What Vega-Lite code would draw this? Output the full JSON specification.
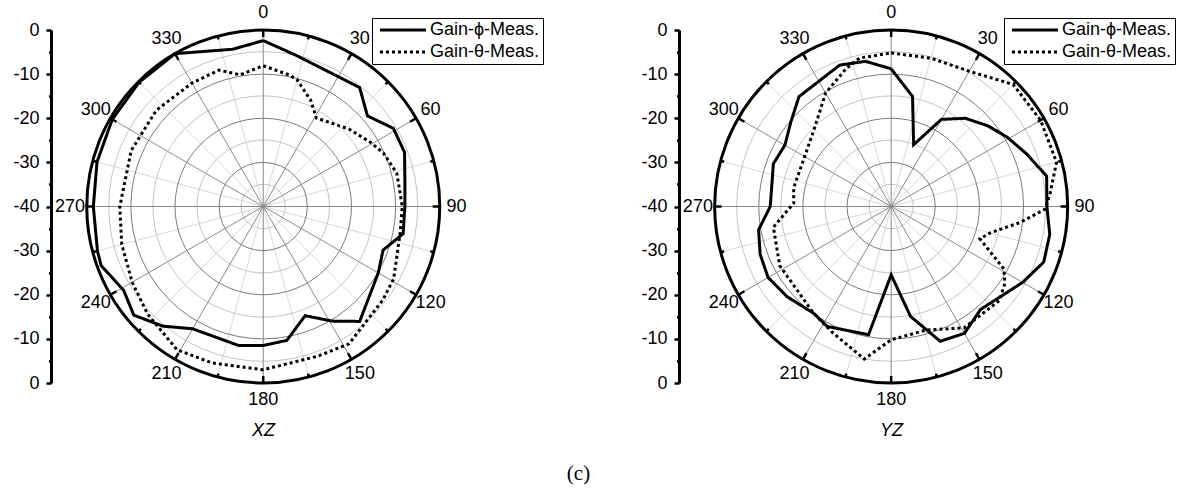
{
  "$schema": "https://vega.github.io/schema/vega-lite/v6.json",
  "width": 1129,
  "height": 353,
  "autosize": {"type": "none"},
  "padding": {"left": 51, "top": 30, "right": 0, "bottom": 108},
  "background": "white",
  "config": {"view": {"stroke": null}, "font": "Liberation Sans"},
  "title": {"text": "(c)", "orient": "bottom", "anchor": "middle", "frame": "group", "font": "Liberation Serif", "fontSize": 21, "fontWeight": "normal", "color": "black", "offset": 24, "dx": -37},
  "datasets": {
    "rings": [
      {"panel": "XZ", "level": -35}, {"panel": "XZ", "level": -30}, {"panel": "XZ", "level": -25}, {"panel": "XZ", "level": -20},
      {"panel": "XZ", "level": -15}, {"panel": "XZ", "level": -10}, {"panel": "XZ", "level": -5}, {"panel": "XZ", "level": 0},
      {"panel": "YZ", "level": -35}, {"panel": "YZ", "level": -30}, {"panel": "YZ", "level": -25}, {"panel": "YZ", "level": -20},
      {"panel": "YZ", "level": -15}, {"panel": "YZ", "level": -10}, {"panel": "YZ", "level": -5}, {"panel": "YZ", "level": 0}
    ],
    "spokes": [
      {"panel": "XZ", "angle": 0}, {"panel": "XZ", "angle": 15}, {"panel": "XZ", "angle": 30}, {"panel": "XZ", "angle": 45},
      {"panel": "XZ", "angle": 60}, {"panel": "XZ", "angle": 75}, {"panel": "XZ", "angle": 90}, {"panel": "XZ", "angle": 105},
      {"panel": "XZ", "angle": 120}, {"panel": "XZ", "angle": 135}, {"panel": "XZ", "angle": 150}, {"panel": "XZ", "angle": 165},
      {"panel": "XZ", "angle": 180}, {"panel": "XZ", "angle": 195}, {"panel": "XZ", "angle": 210}, {"panel": "XZ", "angle": 225},
      {"panel": "XZ", "angle": 240}, {"panel": "XZ", "angle": 255}, {"panel": "XZ", "angle": 270}, {"panel": "XZ", "angle": 285},
      {"panel": "XZ", "angle": 300}, {"panel": "XZ", "angle": 315}, {"panel": "XZ", "angle": 330}, {"panel": "XZ", "angle": 345},
      {"panel": "YZ", "angle": 0}, {"panel": "YZ", "angle": 15}, {"panel": "YZ", "angle": 30}, {"panel": "YZ", "angle": 45},
      {"panel": "YZ", "angle": 60}, {"panel": "YZ", "angle": 75}, {"panel": "YZ", "angle": 90}, {"panel": "YZ", "angle": 105},
      {"panel": "YZ", "angle": 120}, {"panel": "YZ", "angle": 135}, {"panel": "YZ", "angle": 150}, {"panel": "YZ", "angle": 165},
      {"panel": "YZ", "angle": 180}, {"panel": "YZ", "angle": 195}, {"panel": "YZ", "angle": 210}, {"panel": "YZ", "angle": 225},
      {"panel": "YZ", "angle": 240}, {"panel": "YZ", "angle": 255}, {"panel": "YZ", "angle": 270}, {"panel": "YZ", "angle": 285},
      {"panel": "YZ", "angle": 300}, {"panel": "YZ", "angle": 315}, {"panel": "YZ", "angle": 330}, {"panel": "YZ", "angle": 345}
    ],
    "curves": [
      {"panel": "XZ", "series": "Gain-ϕ-Meas.", "angle": 0, "gain": -2.4},
      {"panel": "XZ", "series": "Gain-ϕ-Meas.", "angle": 12, "gain": -4.9},
      {"panel": "XZ", "series": "Gain-ϕ-Meas.", "angle": 39, "gain": -5.3},
      {"panel": "XZ", "series": "Gain-ϕ-Meas.", "angle": 49, "gain": -8.7},
      {"panel": "XZ", "series": "Gain-ϕ-Meas.", "angle": 59, "gain": -5.6},
      {"panel": "XZ", "series": "Gain-ϕ-Meas.", "angle": 69, "gain": -5.7},
      {"panel": "XZ", "series": "Gain-ϕ-Meas.", "angle": 80, "gain": -7.4},
      {"panel": "XZ", "series": "Gain-ϕ-Meas.", "angle": 90, "gain": -7.9},
      {"panel": "XZ", "series": "Gain-ϕ-Meas.", "angle": 101, "gain": -7.7},
      {"panel": "XZ", "series": "Gain-ϕ-Meas.", "angle": 110, "gain": -11.1},
      {"panel": "XZ", "series": "Gain-ϕ-Meas.", "angle": 120, "gain": -9.9},
      {"panel": "XZ", "series": "Gain-ϕ-Meas.", "angle": 140, "gain": -6.0},
      {"panel": "XZ", "series": "Gain-ϕ-Meas.", "angle": 149, "gain": -9.7},
      {"panel": "XZ", "series": "Gain-ϕ-Meas.", "angle": 159, "gain": -13.5},
      {"panel": "XZ", "series": "Gain-ϕ-Meas.", "angle": 170, "gain": -9.2},
      {"panel": "XZ", "series": "Gain-ϕ-Meas.", "angle": 180, "gain": -8.5},
      {"panel": "XZ", "series": "Gain-ϕ-Meas.", "angle": 190, "gain": -8.0},
      {"panel": "XZ", "series": "Gain-ϕ-Meas.", "angle": 210, "gain": -8.0},
      {"panel": "XZ", "series": "Gain-ϕ-Meas.", "angle": 220, "gain": -4.6},
      {"panel": "XZ", "series": "Gain-ϕ-Meas.", "angle": 230, "gain": -1.7},
      {"panel": "XZ", "series": "Gain-ϕ-Meas.", "angle": 239, "gain": -3.1},
      {"panel": "XZ", "series": "Gain-ϕ-Meas.", "angle": 250, "gain": -0.9},
      {"panel": "XZ", "series": "Gain-ϕ-Meas.", "angle": 255, "gain": -1.1},
      {"panel": "XZ", "series": "Gain-ϕ-Meas.", "angle": 270, "gain": -1.5},
      {"panel": "XZ", "series": "Gain-ϕ-Meas.", "angle": 285, "gain": -1.0},
      {"panel": "XZ", "series": "Gain-ϕ-Meas.", "angle": 300, "gain": -0.5},
      {"panel": "XZ", "series": "Gain-ϕ-Meas.", "angle": 315, "gain": -0.2},
      {"panel": "XZ", "series": "Gain-ϕ-Meas.", "angle": 330, "gain": 0},
      {"panel": "XZ", "series": "Gain-ϕ-Meas.", "angle": 349, "gain": -3.7},
      {"panel": "XZ", "series": "Gain-ϕ-Meas.", "angle": 360, "gain": -2.4},
      {"panel": "XZ", "series": "Gain-θ-Meas.", "angle": 0, "gain": -8.1},
      {"panel": "XZ", "series": "Gain-θ-Meas.", "angle": 11, "gain": -9.6},
      {"panel": "XZ", "series": "Gain-θ-Meas.", "angle": 15, "gain": -10.3},
      {"panel": "XZ", "series": "Gain-θ-Meas.", "angle": 24, "gain": -13.6},
      {"panel": "XZ", "series": "Gain-θ-Meas.", "angle": 31, "gain": -16.6},
      {"panel": "XZ", "series": "Gain-θ-Meas.", "angle": 48, "gain": -13.8},
      {"panel": "XZ", "series": "Gain-θ-Meas.", "angle": 59, "gain": -11.7},
      {"panel": "XZ", "series": "Gain-θ-Meas.", "angle": 66, "gain": -10.2},
      {"panel": "XZ", "series": "Gain-θ-Meas.", "angle": 76, "gain": -8.8},
      {"panel": "XZ", "series": "Gain-θ-Meas.", "angle": 90, "gain": -8.5},
      {"panel": "XZ", "series": "Gain-θ-Meas.", "angle": 101, "gain": -8.4},
      {"panel": "XZ", "series": "Gain-θ-Meas.", "angle": 119, "gain": -6.2},
      {"panel": "XZ", "series": "Gain-θ-Meas.", "angle": 128, "gain": -5.6},
      {"panel": "XZ", "series": "Gain-θ-Meas.", "angle": 148, "gain": -3.3},
      {"panel": "XZ", "series": "Gain-θ-Meas.", "angle": 160, "gain": -3.9},
      {"panel": "XZ", "series": "Gain-θ-Meas.", "angle": 180, "gain": -3.0},
      {"panel": "XZ", "series": "Gain-θ-Meas.", "angle": 198, "gain": -2.7},
      {"panel": "XZ", "series": "Gain-θ-Meas.", "angle": 211, "gain": -2.1},
      {"panel": "XZ", "series": "Gain-θ-Meas.", "angle": 227, "gain": -4.2},
      {"panel": "XZ", "series": "Gain-θ-Meas.", "angle": 240, "gain": -5.7},
      {"panel": "XZ", "series": "Gain-θ-Meas.", "angle": 255, "gain": -6.8},
      {"panel": "XZ", "series": "Gain-θ-Meas.", "angle": 270, "gain": -7.5},
      {"panel": "XZ", "series": "Gain-θ-Meas.", "angle": 293, "gain": -7.5},
      {"panel": "XZ", "series": "Gain-θ-Meas.", "angle": 312, "gain": -7.4},
      {"panel": "XZ", "series": "Gain-θ-Meas.", "angle": 330, "gain": -7.7},
      {"panel": "XZ", "series": "Gain-θ-Meas.", "angle": 342, "gain": -7.5},
      {"panel": "XZ", "series": "Gain-θ-Meas.", "angle": 350, "gain": -9.7},
      {"panel": "XZ", "series": "Gain-θ-Meas.", "angle": 360, "gain": -8.1},
      {"panel": "YZ", "series": "Gain-ϕ-Meas.", "angle": 0, "gain": -8.8},
      {"panel": "YZ", "series": "Gain-ϕ-Meas.", "angle": 11, "gain": -14.6},
      {"panel": "YZ", "series": "Gain-ϕ-Meas.", "angle": 20, "gain": -25.1},
      {"panel": "YZ", "series": "Gain-ϕ-Meas.", "angle": 30, "gain": -17.2},
      {"panel": "YZ", "series": "Gain-ϕ-Meas.", "angle": 40, "gain": -13.9},
      {"panel": "YZ", "series": "Gain-ϕ-Meas.", "angle": 50, "gain": -11.5},
      {"panel": "YZ", "series": "Gain-ϕ-Meas.", "angle": 59, "gain": -9.4},
      {"panel": "YZ", "series": "Gain-ϕ-Meas.", "angle": 69, "gain": -7.0},
      {"panel": "YZ", "series": "Gain-ϕ-Meas.", "angle": 79, "gain": -4.1},
      {"panel": "YZ", "series": "Gain-ϕ-Meas.", "angle": 90, "gain": -4.7},
      {"panel": "YZ", "series": "Gain-ϕ-Meas.", "angle": 100, "gain": -3.5},
      {"panel": "YZ", "series": "Gain-ϕ-Meas.", "angle": 110, "gain": -3.2},
      {"panel": "YZ", "series": "Gain-ϕ-Meas.", "angle": 120, "gain": -5.6},
      {"panel": "YZ", "series": "Gain-ϕ-Meas.", "angle": 139, "gain": -9.1},
      {"panel": "YZ", "series": "Gain-ϕ-Meas.", "angle": 150, "gain": -6.8},
      {"panel": "YZ", "series": "Gain-ϕ-Meas.", "angle": 160, "gain": -7.5},
      {"panel": "YZ", "series": "Gain-ϕ-Meas.", "angle": 170, "gain": -14.7},
      {"panel": "YZ", "series": "Gain-ϕ-Meas.", "angle": 180, "gain": -24.5},
      {"panel": "YZ", "series": "Gain-ϕ-Meas.", "angle": 190, "gain": -10.5},
      {"panel": "YZ", "series": "Gain-ϕ-Meas.", "angle": 208, "gain": -9.2},
      {"panel": "YZ", "series": "Gain-ϕ-Meas.", "angle": 216, "gain": -10.1},
      {"panel": "YZ", "series": "Gain-ϕ-Meas.", "angle": 229, "gain": -8.8},
      {"panel": "YZ", "series": "Gain-ϕ-Meas.", "angle": 240, "gain": -7.8},
      {"panel": "YZ", "series": "Gain-ϕ-Meas.", "angle": 250, "gain": -8.4},
      {"panel": "YZ", "series": "Gain-ϕ-Meas.", "angle": 260, "gain": -9.5},
      {"panel": "YZ", "series": "Gain-ϕ-Meas.", "angle": 270, "gain": -12.6},
      {"panel": "YZ", "series": "Gain-ϕ-Meas.", "angle": 290, "gain": -11.6},
      {"panel": "YZ", "series": "Gain-ϕ-Meas.", "angle": 300, "gain": -12.2},
      {"panel": "YZ", "series": "Gain-ϕ-Meas.", "angle": 310, "gain": -10.3},
      {"panel": "YZ", "series": "Gain-ϕ-Meas.", "angle": 320, "gain": -7.5},
      {"panel": "YZ", "series": "Gain-ϕ-Meas.", "angle": 340, "gain": -5.9},
      {"panel": "YZ", "series": "Gain-ϕ-Meas.", "angle": 350, "gain": -6.6},
      {"panel": "YZ", "series": "Gain-ϕ-Meas.", "angle": 360, "gain": -8.8},
      {"panel": "YZ", "series": "Gain-θ-Meas.", "angle": 0, "gain": -5.2},
      {"panel": "YZ", "series": "Gain-θ-Meas.", "angle": 15, "gain": -5.2},
      {"panel": "YZ", "series": "Gain-θ-Meas.", "angle": 30, "gain": -4.6},
      {"panel": "YZ", "series": "Gain-θ-Meas.", "angle": 45, "gain": -0.9},
      {"panel": "YZ", "series": "Gain-θ-Meas.", "angle": 60, "gain": -0.9},
      {"panel": "YZ", "series": "Gain-θ-Meas.", "angle": 75, "gain": -1.2},
      {"panel": "YZ", "series": "Gain-θ-Meas.", "angle": 85, "gain": -3.8},
      {"panel": "YZ", "series": "Gain-θ-Meas.", "angle": 91, "gain": -5.1},
      {"panel": "YZ", "series": "Gain-θ-Meas.", "angle": 97, "gain": -10.5},
      {"panel": "YZ", "series": "Gain-θ-Meas.", "angle": 105, "gain": -16.8},
      {"panel": "YZ", "series": "Gain-θ-Meas.", "angle": 110, "gain": -18.6},
      {"panel": "YZ", "series": "Gain-θ-Meas.", "angle": 119, "gain": -10.8},
      {"panel": "YZ", "series": "Gain-θ-Meas.", "angle": 124, "gain": -8.9},
      {"panel": "YZ", "series": "Gain-θ-Meas.", "angle": 131, "gain": -7.5},
      {"panel": "YZ", "series": "Gain-θ-Meas.", "angle": 149, "gain": -7.9},
      {"panel": "YZ", "series": "Gain-θ-Meas.", "angle": 164, "gain": -10.9},
      {"panel": "YZ", "series": "Gain-θ-Meas.", "angle": 180, "gain": -9.8},
      {"panel": "YZ", "series": "Gain-θ-Meas.", "angle": 190, "gain": -4.9},
      {"panel": "YZ", "series": "Gain-θ-Meas.", "angle": 205, "gain": -8.5},
      {"panel": "YZ", "series": "Gain-θ-Meas.", "angle": 216, "gain": -10.1},
      {"panel": "YZ", "series": "Gain-θ-Meas.", "angle": 242, "gain": -11.4},
      {"panel": "YZ", "series": "Gain-θ-Meas.", "angle": 260, "gain": -12.9},
      {"panel": "YZ", "series": "Gain-θ-Meas.", "angle": 272, "gain": -17.9},
      {"panel": "YZ", "series": "Gain-θ-Meas.", "angle": 281, "gain": -17.5},
      {"panel": "YZ", "series": "Gain-θ-Meas.", "angle": 298, "gain": -17.5},
      {"panel": "YZ", "series": "Gain-θ-Meas.", "angle": 315, "gain": -15.3},
      {"panel": "YZ", "series": "Gain-θ-Meas.", "angle": 330, "gain": -10.3},
      {"panel": "YZ", "series": "Gain-θ-Meas.", "angle": 342, "gain": -7.1},
      {"panel": "YZ", "series": "Gain-θ-Meas.", "angle": 348, "gain": -5.6},
      {"panel": "YZ", "series": "Gain-θ-Meas.", "angle": 360, "gain": -5.2}
    ]
  },
  "layer": [
    {
      "data": {"name": "spokes"},
      "transform": [
        {"filter": "datum.angle % 30 != 0"},
        {"calculate": "datum.panel == 'YZ' ? 142.3 : 0", "as": "off"},
        {"calculate": "datum.angle * PI / 180", "as": "rad"},
        {"calculate": "datum.off + 40 * sin(datum.rad)", "as": "x2"},
        {"calculate": "40 * cos(datum.rad)", "as": "y2"},
        {"calculate": "0", "as": "y0"}
      ],
      "mark": {"type": "rule", "color": "#d8d8d8", "strokeWidth": 1},
      "encoding": {
        "x": {"field": "off", "type": "quantitative", "scale": {"domain": [-48.1, 207.76], "nice": false, "zero": false}, "axis": null},
        "y": {"field": "y0", "type": "quantitative", "scale": {"domain": [-40, 40], "nice": false, "zero": false}, "axis": null},
        "x2": {"field": "x2"},
        "y2": {"field": "y2"}
      }
    },
    {
      "data": {"name": "rings"},
      "transform": [
        {"filter": "datum.level % 10 != 0"},
        {"calculate": "datum.panel == 'YZ' ? 142.3 : 0", "as": "off"},
        {"calculate": "datum.level + 40", "as": "r"},
        {"calculate": "0", "as": "y0"}
      ],
      "mark": {"type": "point", "shape": "circle", "filled": false, "color": "#c4c4c4", "strokeWidth": 1, "opacity": 1},
      "encoding": {
        "x": {"field": "off", "type": "quantitative", "axis": null},
        "y": {"field": "y0", "type": "quantitative", "axis": null},
        "size": {"field": "r", "type": "quantitative", "scale": {"type": "pow", "exponent": 2, "domain": [0, 40], "range": [0, 124609], "zero": true, "nice": false}, "legend": null}
      }
    },
    {
      "data": {"name": "rings"},
      "transform": [
        {"filter": "datum.level % 10 == 0 && datum.level != 0"},
        {"calculate": "datum.panel == 'YZ' ? 142.3 : 0", "as": "off"},
        {"calculate": "datum.level + 40", "as": "r"},
        {"calculate": "0", "as": "y0"}
      ],
      "mark": {"type": "point", "shape": "circle", "filled": false, "color": "#7c7c7c", "strokeWidth": 1, "opacity": 1},
      "encoding": {
        "x": {"field": "off", "type": "quantitative", "axis": null},
        "y": {"field": "y0", "type": "quantitative", "axis": null},
        "size": {"field": "r", "type": "quantitative", "legend": null}
      }
    },
    {
      "data": {"name": "spokes"},
      "transform": [
        {"filter": "datum.angle % 30 == 0"},
        {"calculate": "datum.panel == 'YZ' ? 142.3 : 0", "as": "off"},
        {"calculate": "datum.angle * PI / 180", "as": "rad"},
        {"calculate": "datum.off + 40 * sin(datum.rad)", "as": "x2"},
        {"calculate": "40 * cos(datum.rad)", "as": "y2"},
        {"calculate": "0", "as": "y0"}
      ],
      "mark": {"type": "rule", "color": "#8a8a8a", "strokeWidth": 1},
      "encoding": {
        "x": {"field": "off", "type": "quantitative", "axis": null},
        "y": {"field": "y0", "type": "quantitative", "axis": null},
        "x2": {"field": "x2"},
        "y2": {"field": "y2"}
      }
    },
    {
      "data": {"name": "rings"},
      "transform": [
        {"filter": "datum.level == 0"},
        {"calculate": "datum.panel == 'YZ' ? 142.3 : 0", "as": "off"},
        {"calculate": "datum.level + 40", "as": "r"},
        {"calculate": "0", "as": "y0"}
      ],
      "mark": {"type": "point", "shape": "circle", "filled": false, "color": "black", "strokeWidth": 3, "opacity": 1},
      "encoding": {
        "x": {"field": "off", "type": "quantitative", "axis": null},
        "y": {"field": "y0", "type": "quantitative", "axis": null},
        "size": {"field": "r", "type": "quantitative", "legend": null}
      }
    },
    {
      "data": {"name": "spokes"},
      "transform": [
        {"calculate": "datum.panel == 'YZ' ? 142.3 : 0", "as": "off"},
        {"calculate": "datum.angle * PI / 180", "as": "rad"},
        {"calculate": "datum.angle % 30 == 0 ? 38.4 : 39.2", "as": "rin"},
        {"calculate": "datum.off + datum.rin * sin(datum.rad)", "as": "xa"},
        {"calculate": "datum.rin * cos(datum.rad)", "as": "ya"},
        {"calculate": "datum.off + 40 * sin(datum.rad)", "as": "xb"},
        {"calculate": "40 * cos(datum.rad)", "as": "yb"}
      ],
      "mark": {"type": "rule", "color": "black", "strokeWidth": 2.5},
      "encoding": {
        "x": {"field": "xa", "type": "quantitative", "axis": null},
        "y": {"field": "ya", "type": "quantitative", "axis": null},
        "x2": {"field": "xb"},
        "y2": {"field": "yb"}
      }
    },
    {
      "data": {"name": "curves"},
      "transform": [
        {"filter": "datum.panel == 'XZ'"},
        {"calculate": "datum.angle * PI / 180", "as": "rad"},
        {"calculate": "(datum.gain + 40) * sin(datum.rad)", "as": "px"},
        {"calculate": "(datum.gain + 40) * cos(datum.rad)", "as": "py"}
      ],
      "mark": {"type": "line", "color": "black", "strokeWidth": 3, "strokeJoin": "miter"},
      "encoding": {
        "x": {"field": "px", "type": "quantitative", "axis": {"orient": "bottom", "title": "XZ", "domain": false, "ticks": false, "labels": false, "grid": false, "titleX": 212, "titleY": 47, "titleBaseline": "middle", "titleAlign": "center", "titleFontStyle": "italic", "titleFontWeight": "normal", "titleFontSize": 18, "titleFont": "Liberation Sans", "titleColor": "black"}},
        "y": {"field": "py", "type": "quantitative", "axis": {"orient": "left", "values": [-40, -35, -30, -25, -20, -15, -10, -5, 0, 5, 10, 15, 20, 25, 30, 35, 40], "labelExpr": "datum.value % 10 == 0 ? '' + (abs(datum.value) - 40) : ''", "labelOverlap": false, "domainColor": "black", "domainWidth": 3, "tickColor": "black", "tickWidth": 2.5, "tickSize": {"condition": {"test": "datum.value % 10 != 0", "value": 2.5}, "value": 5}, "labelFontSize": 18, "labelFont": "Liberation Sans", "labelColor": "black", "labelPadding": 7, "grid": false, "title": null}},
        "order": {"field": "angle", "type": "quantitative"},
        "strokeDash": {"field": "series", "type": "nominal", "scale": {"domain": ["Gain-ϕ-Meas.", "Gain-θ-Meas."], "range": [[1, 0], [3, 3]]}, "legend": {"orient": "none", "legendX": 321, "legendY": -12, "title": null, "symbolType": "M-4.6,0H4.6", "symbolSize": 100, "symbolOffset": 19, "symbolStrokeWidth": 3, "symbolStrokeColor": "black", "symbolFillColor": "transparent", "labelFontSize": 18, "labelFont": "Liberation Sans", "labelColor": "black", "strokeColor": "black", "fillColor": "white", "padding": 3, "rowPadding": 4, "labelOffset": 18, "labelLimit": 400}}
      }
    },
    {
      "data": {"name": "curves"},
      "transform": [
        {"filter": "datum.panel == 'YZ'"},
        {"calculate": "datum.angle * PI / 180", "as": "rad"},
        {"calculate": "142.3 + (datum.gain + 40) * sin(datum.rad)", "as": "px"},
        {"calculate": "(datum.gain + 40) * cos(datum.rad)", "as": "py"}
      ],
      "mark": {"type": "line", "color": "black", "strokeWidth": 3, "strokeJoin": "miter"},
      "encoding": {
        "x": {"field": "px", "type": "quantitative", "axis": {"orient": "bottom", "title": "YZ", "domain": false, "ticks": false, "labels": false, "grid": false, "titleX": 840, "titleY": 47, "titleBaseline": "middle", "titleAlign": "center", "titleFontStyle": "italic", "titleFontWeight": "normal", "titleFontSize": 18, "titleFont": "Liberation Sans", "titleColor": "black"}},
        "y": {"field": "py", "type": "quantitative", "axis": {"orient": "left", "offset": -628, "values": [-40, -35, -30, -25, -20, -15, -10, -5, 0, 5, 10, 15, 20, 25, 30, 35, 40], "labelExpr": "datum.value % 10 == 0 ? '' + (abs(datum.value) - 40) : ''", "labelOverlap": false, "domainColor": "black", "domainWidth": 3, "tickColor": "black", "tickWidth": 2.5, "tickSize": {"condition": {"test": "datum.value % 10 != 0", "value": 2.5}, "value": 5}, "labelFontSize": 18, "labelFont": "Liberation Sans", "labelColor": "black", "labelPadding": 7, "grid": false, "title": null}},
        "order": {"field": "angle", "type": "quantitative"},
        "strokeDash": {"field": "series", "type": "nominal", "legend": {"orient": "none", "legendX": 953, "legendY": -12, "title": null, "symbolType": "M-4.6,0H4.6", "symbolSize": 100, "symbolOffset": 19, "symbolStrokeWidth": 3, "symbolStrokeColor": "black", "symbolFillColor": "transparent", "labelFontSize": 18, "labelFont": "Liberation Sans", "labelColor": "black", "strokeColor": "black", "fillColor": "white", "padding": 3, "rowPadding": 4, "labelOffset": 18, "labelLimit": 400}}
      }
    },
    {
      "data": {"name": "spokes"},
      "transform": [
        {"filter": "datum.angle % 30 == 0"},
        {"calculate": "datum.panel == 'YZ' ? 142.3 : 0", "as": "off"},
        {"calculate": "datum.angle * PI / 180", "as": "rad"},
        {"calculate": "datum.off + 43.8 * sin(datum.rad)", "as": "tx"},
        {"calculate": "43.8 * cos(datum.rad)", "as": "ty"}
      ],
      "mark": {"type": "text", "fontSize": 18, "font": "Liberation Sans", "color": "black", "align": "center", "baseline": "middle"},
      "encoding": {
        "x": {"field": "tx", "type": "quantitative", "axis": null},
        "y": {"field": "ty", "type": "quantitative", "axis": null},
        "text": {"field": "angle", "type": "nominal"}
      }
    }
  ],
  "resolve": {"axis": {"x": "independent", "y": "independent"}, "legend": {"strokeDash": "independent"}}
}
